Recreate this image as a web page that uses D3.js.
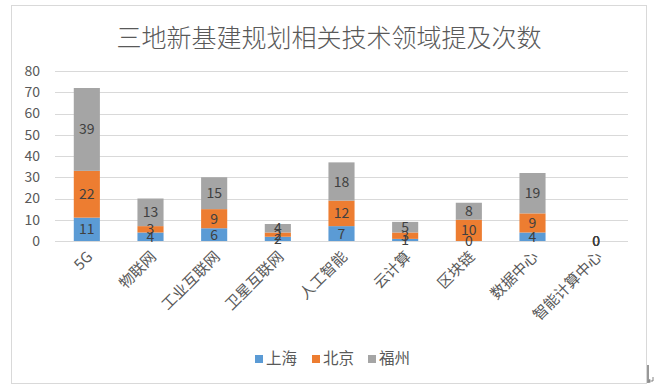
<!DOCTYPE html>
<html><head><meta charset="utf-8">
<script src="https://cdn.jsdelivr.net/npm/d3@7"></script>
<style>body{margin:0;background:#fff;}svg{display:block;}</style>
</head><body>
<svg id="c" width="655" height="389"></svg>
<script>
const categories = ["5G","物联网","工业互联网","卫星互联网","人工智能","云计算","区块链","数据中心","智能计算中心"];
const seriesNames = ["上海","北京","福州"];
const shanghai = [11,4,6,2,7,1,0,4,0];
const beijing  = [22,3,9,2,12,3,10,9,0];
const fuzhou   = [39,13,15,4,18,5,8,19,0];
const yTicks = [0,10,20,30,40,50,60,70,80];
const colors = ["#5B9BD5","#ED7D31","#A5A5A5"];
const title = "三地新基建规划相关技术领域提及次数";

const svg = d3.select("#c");
const font = "'Noto Sans CJK SC','Noto Sans',sans-serif";
svg.append("rect").attr("x",11.5).attr("y",5.5).attr("width",635).attr("height",378)
  .attr("fill","#fff").attr("stroke","#D9D9D9");
// small anchor mark at bottom right
svg.append("line").attr("x1",648).attr("x2",648).attr("y1",365).attr("y2",383).attr("stroke","#333").attr("stroke-width",1);
svg.append("path").attr("d","M653,377 L653,381 L649,381 M650,379 L649,381 L650,383").attr("fill","none").attr("stroke","#666").attr("stroke-width",0.8);

const x = d3.scaleBand().domain(categories).range([55,628]).paddingInner(0.59).paddingOuter(0.295);
const y = d3.scaleLinear().domain([0,80]).range([241,71]);

svg.append("text").attr("x",329).attr("y",47).attr("text-anchor","middle")
  .attr("font-family",font).attr("font-size",25).attr("font-weight",300).attr("fill","#595959").text(title);

// gridlines
svg.append("g").selectAll("line").data(yTicks).join("line")
  .attr("x1",55).attr("x2",628).attr("y1",d=>Math.round(y(d))+0.5).attr("y2",d=>Math.round(y(d))+0.5)
  .attr("stroke","#D9D9D9").attr("stroke-width",1);

// y axis labels
const yAxis = svg.append("g").attr("transform","translate(44,0)")
  .call(d3.axisLeft(y).tickValues(yTicks).tickSize(0).tickPadding(4));
yAxis.select(".domain").remove();
yAxis.selectAll("text").attr("font-family",font).attr("font-size",14).attr("fill","#595959");

const data = categories.map((c,i)=>({cat:c, "上海":shanghai[i], "北京":beijing[i], "福州":fuzhou[i]}));
const stacked = d3.stack().keys(seriesNames)(data);

const g = svg.append("g");
stacked.forEach((s,si)=>{
  g.append("g").selectAll("rect").data(s).join("rect")
    .attr("x",d=>x(d.data.cat)).attr("width",x.bandwidth())
    .attr("y",d=>y(d[1])).attr("height",d=>y(d[0])-y(d[1]))
    .attr("fill",colors[si]);
});
stacked.forEach((s,si)=>{
  g.append("g").selectAll("text").data(s).join("text")
    .attr("x",d=>x(d.data.cat)+x.bandwidth()/2)
    .attr("y",d=>(y(d[0])+y(d[1]))/2)
    .attr("dy","0.36em").attr("text-anchor","middle")
    .attr("font-family",font).attr("font-size",14).attr("fill","#404040")
    .text(d=>d[1]-d[0]);
});

// x axis labels
const xa = svg.append("g").attr("transform","translate(0,241)");
xa.selectAll("text").data(categories).join("text")
  .attr("transform",d=>`translate(${x(d)+x.bandwidth()/2+3},13) rotate(-45)`)
  .attr("text-anchor","end").attr("dy","0.35em")
  .attr("font-family",font).attr("font-size",15).attr("fill","#595959")
  .text(d=>d);

// legend
const lx = [255,312,368];
const lg = svg.append("g");
seriesNames.forEach((n,i)=>{
  lg.append("rect").attr("x",lx[i]).attr("y",355).attr("width",8).attr("height",8).attr("fill",colors[i]);
  lg.append("text").attr("x",lx[i]+11).attr("y",364).attr("font-family",font).attr("font-size",15.5)
    .attr("fill","#595959").text(n);
});
</script>
</body></html>
